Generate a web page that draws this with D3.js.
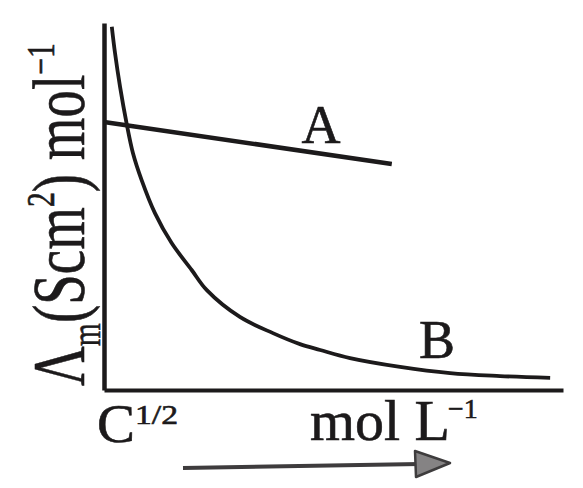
<!DOCTYPE html>
<html><head><meta charset="utf-8">
<script src="https://cdn.jsdelivr.net/npm/d3@7"></script>
<style>
html,body{margin:0;padding:0;background:#fff;}
svg{display:block;}
text{font-family:"Liberation Serif","Times New Roman",serif;fill:#1c1a1b;stroke:#1c1a1b;stroke-width:0.6px;}
</style></head>
<body>
<svg id="chart" width="583" height="488"></svg>
<script>
// C^1/2 (arbitrary units) and molar conductivity (arbitrary units)
const curveB_x = [0.17, 0.24, 0.35, 0.49, 0.63, 0.82, 1.11, 1.47, 1.91, 2.24, 2.96, 3.68, 4.27, 4.71, 5.36, 6.45, 7.54, 8.63, 9.72];
const curveB_y = [9.90, 9.18, 8.26, 7.28, 6.46, 5.72, 4.82, 4.01, 3.27, 2.72, 1.99, 1.55, 1.25, 1.09, 0.87, 0.63, 0.46, 0.38, 0.33];
const lineA_x = [0, 6.27];
const lineA_y = [7.30, 6.16];
const seriesLabels = ["A", "B"];
const xDomain = [0, 10];
const yDomain = [0, 10];

const svg = d3.select("#chart");
const ink = "#1c1a1b";
const x = d3.scaleLinear().domain(xDomain).range([104, 563]);
const y = d3.scaleLinear().domain(yDomain).range([390, 23]);

// axes (domain lines only)
svg.append("g").attr("transform", "translate(0,390)")
  .call(d3.axisBottom(x).tickValues([]).tickSizeOuter(0))
  .call(g => g.select(".domain").attr("stroke", ink).attr("stroke-width", 4));
svg.append("g").attr("transform", "translate(104,0)")
  .call(d3.axisLeft(y).tickValues([]).tickSizeOuter(0))
  .call(g => g.select(".domain").attr("stroke", ink).attr("stroke-width", 4.5));

const line = d3.line().x(d => x(d[0])).y(d => y(d[1]));
svg.append("path")
  .attr("d", line(lineA_x.map((v, i) => [v, lineA_y[i]])))
  .attr("fill", "none").attr("stroke", ink).attr("stroke-width", 4.5);
svg.append("path")
  .attr("d", line.curve(d3.curveCatmullRom.alpha(0.5))(curveB_x.map((v, i) => [v, curveB_y[i]])))
  .attr("fill", "none").attr("stroke", ink).attr("stroke-width", 3.8);

// series labels
svg.append("text").attr("x", 321).attr("y", 143).attr("text-anchor", "middle")
  .attr("font-size", 54).text(seriesLabels[0]);
svg.append("text").attr("x", 437).attr("y", 358).attr("text-anchor", "middle")
  .attr("font-size", 54).text(seriesLabels[1]);

// x label
svg.append("text").attr("x", 97).attr("y", 442).attr("font-size", 54)
  .attr("textLength", 38).attr("lengthAdjust", "spacingAndGlyphs").text("C");
svg.append("text").attr("x", 135).attr("y", 424).attr("font-size", 28)
  .attr("textLength", 43).attr("lengthAdjust", "spacingAndGlyphs").text("1/2");
svg.append("text").attr("x", 310).attr("y", 440).attr("font-size", 56)
  .attr("textLength", 140).attr("lengthAdjust", "spacingAndGlyphs").text("mol L");
svg.append("text").attr("x", 448).attr("y", 418).attr("font-size", 28).text("−1");

// y label, rotated, fit to length
const yl = svg.append("g").attr("transform", "translate(84,386) rotate(-90)");
const inner = yl.append("g");
const t = inner.append("text").attr("x", 0).attr("y", 0).attr("font-size", 74);
t.append("tspan").text("Λ");
t.append("tspan").attr("font-size", 40).attr("dy", 16).text("m");
t.append("tspan").attr("dy", -16).text("(Scm");
t.append("tspan").attr("font-size", 40).attr("dy", -30).text("2");
t.append("tspan").attr("dy", 30).text(") mol");
t.append("tspan").attr("font-size", 40).attr("dy", -30).text("−1");
const len = t.node().getComputedTextLength();
inner.attr("transform", `scale(${343 / len},1)`);

// arrow
svg.append("line").attr("x1", 183).attr("y1", 468).attr("x2", 420).attr("y2", 464)
  .attr("stroke", "#3e3c3d").attr("stroke-width", 4);
svg.append("path").attr("d", "M415,451 L450,463 L416,477 Z")
  .attr("fill", "#858384").attr("stroke", "#3e3c3d").attr("stroke-width", 2.5).attr("stroke-linejoin", "round");
</script>
</body></html>
